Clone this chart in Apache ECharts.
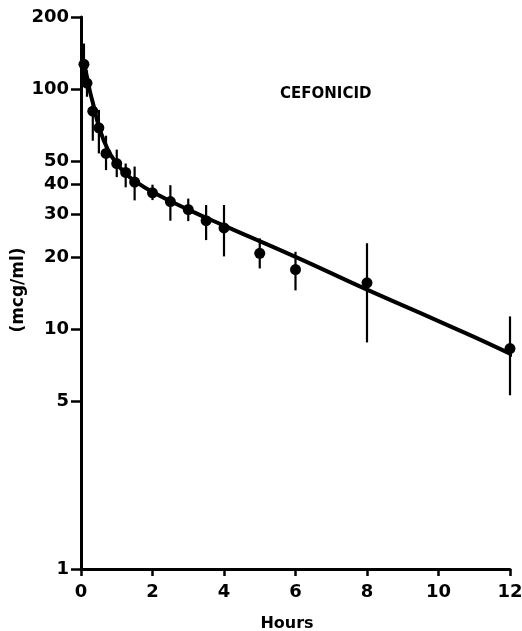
<!DOCTYPE html>
<html><head><meta charset="utf-8">
<script src="https://cdn.jsdelivr.net/npm/echarts@6/dist/echarts.min.js"></script>
<style>html,body{margin:0;padding:0;background:#fff}#c{width:522px;height:631px}</style>
</head><body><div id="c"></div>
<script>
// Sampling times (hours) and mean serum concentrations (mcg/ml)
const hours    = [0.083, 0.167, 0.33, 0.5, 0.7, 1, 1.25, 1.5, 2, 2.5, 3, 3.5, 4, 5, 6, 8, 12];
const meanConc = [127, 106, 81, 69, 54, 49, 45, 41, 37, 34, 31.5, 28.3, 26.4, 20.7, 17.7, 15.6, 8.3];
const errLow   = [104, 93, 61, 54, 46, 43, 39, 34.4, 34.5, 28.3, 28.2, 23.5, 20.1, 17.9, 14.5, 8.8, 5.3];
const errHigh  = [155, 120, 91, 82, 64, 56, 49, 47.6, 40, 39.8, 35, 32.9, 32.9, 23.9, 21, 22.8, 11.3];
// Fitted curve
const fitHours = [0.08, 0.17, 0.25, 0.33, 0.5, 0.75, 1, 1.25, 1.5, 2, 3, 4, 6, 8, 10, 12, 12.3];
const fitConc  = [128, 112, 98, 88, 70, 56, 49, 44.5, 41.5, 37.3, 31.5, 27, 20, 14.6, 10.8, 7.9, 7.4];
const yTickValues = [1, 5, 10, 20, 30, 40, 50, 100, 200];

const FONT = 'DejaVu Sans';
const chart = echarts.init(document.getElementById('c'), null, {renderer: 'canvas'});
chart.setOption({
  backgroundColor: '#fff',
  animation: false,
  grid: {left: 81, right: 12, top: 17, bottom: 62, containLabel: false, outerBoundsMode: 'none'},
  xAxis: {
    type: 'value', min: 0, max: 12, interval: 2,
    name: 'Hours', nameLocation: 'middle', nameGap: 47, nameMoveOverlap: false,
    nameTextStyle: {fontFamily: FONT, fontWeight: 'bold', fontSize: 16, color: '#000', padding: [0, 17, 0, 0]},
    axisLine: {show: true, onZero: false, lineStyle: {color: '#000', width: 3}},
    axisTick: {show: true, inside: false, length: 7, lineStyle: {color: '#000', width: 2.5}},
    axisLabel: {fontFamily: FONT, fontWeight: 'bold', fontSize: 18, color: '#000', margin: 14},
    splitLine: {show: false}
  },
  yAxis: {
    type: 'log', logBase: 10, min: 1, max: 200,
    name: '(mcg/ml)', nameLocation: 'middle', nameGap: 54, nameRotate: 90, nameMoveOverlap: false,
    nameTextStyle: {fontFamily: FONT, fontWeight: 'bold', fontSize: 17, color: '#000', padding: [0, 0, 0, 6]},
    axisLine: {show: true, onZero: false, lineStyle: {color: '#000', width: 3}},
    axisTick: {show: true, inside: false, length: 10, customValues: yTickValues, lineStyle: {color: '#000', width: 2.5}},
    axisLabel: {fontFamily: FONT, fontWeight: 'bold', fontSize: 18, color: '#000', margin: 12,
                verticalAlign: 'middle', padding: [3, 0, 0, 0], customValues: yTickValues},
    splitLine: {show: false},
    minorTick: {show: false}
  },
  graphic: [{
    type: 'text', left: 280, top: 87,
    style: {text: 'CEFONICID', fontFamily: FONT, fontWeight: 'bold', fontSize: 15, fill: '#000'}
  }],
  series: [
    {
      type: 'line', data: fitHours.map((h, i) => [h, fitConc[i]]),
      showSymbol: false, smooth: true, clip: false,
      lineStyle: {color: '#000', width: 4}
    },
    {
      type: 'custom',
      data: hours.map((h, i) => [h, errLow[i], errHigh[i]]),
      renderItem: function (params, api) {
        const lo = api.coord([api.value(0), api.value(1)]);
        const hi = api.coord([api.value(0), api.value(2)]);
        return {type: 'line', shape: {x1: lo[0], y1: lo[1], x2: hi[0], y2: hi[1]},
                style: {stroke: '#000', lineWidth: 2.2}};
      },
      z: 3
    },
    {
      type: 'scatter', data: hours.map((h, i) => [h, meanConc[i]]),
      symbol: 'circle', symbolSize: 11, itemStyle: {color: '#000', opacity: 1}, z: 4
    }
  ]
});
</script></body></html>
